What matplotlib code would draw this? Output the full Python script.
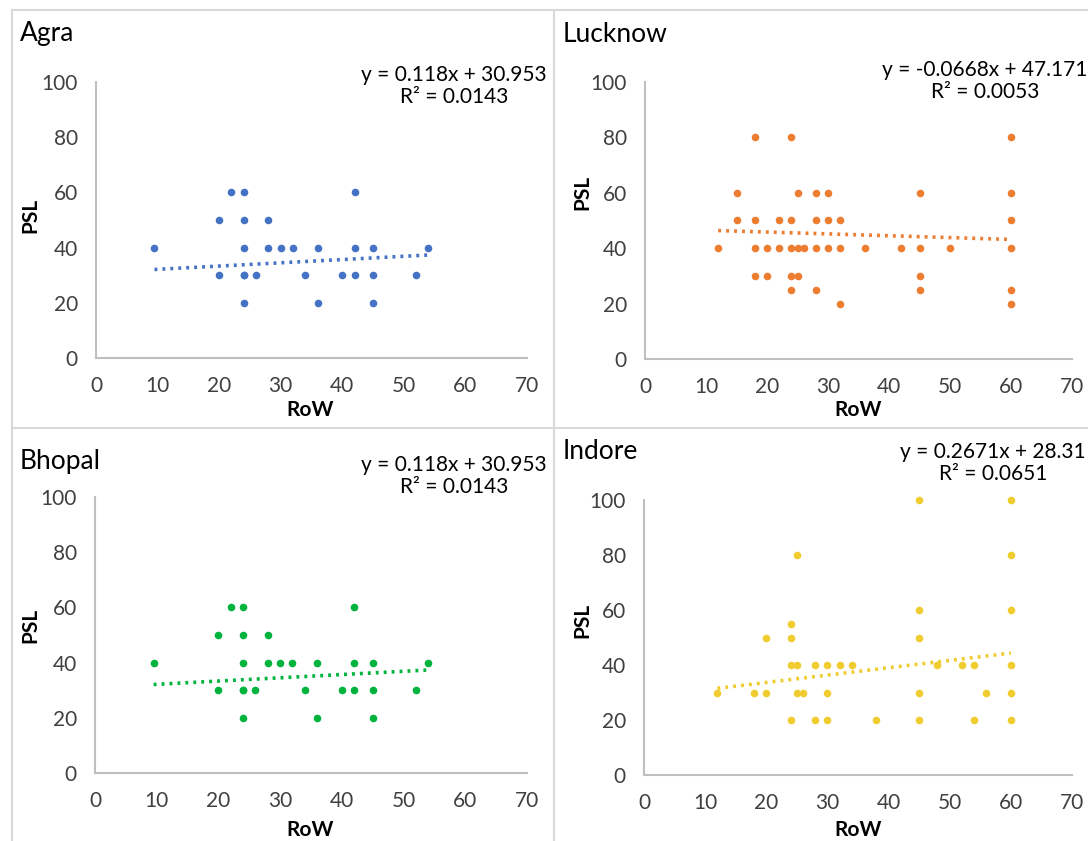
import matplotlib
matplotlib.use("Agg")
import matplotlib.pyplot as plt
from matplotlib.lines import Line2D
import numpy as np

plt.rcParams['font.family'] = ['Lato', 'DejaVu Sans']

# ---- datos ----
agra_x = [22, 24, 42,
          20, 24, 28,
          9.5, 24, 28, 30, 32, 36, 42, 45, 54,
          20, 24, 24, 26, 34, 40, 42, 45, 52,
          24, 36, 45]
agra_y = [60, 60, 60,
          50, 50, 50,
          40, 40, 40, 40, 40, 40, 40, 40, 40,
          30, 30, 30, 30, 30, 30, 30, 30, 30,
          20, 20, 20]

lucknow_x = [18, 24, 60,
             15, 25, 28, 30, 45, 60,
             15, 18, 22, 24, 28, 30, 32, 60,
             12, 18, 20, 22, 24, 25, 26, 28, 30, 32, 36, 42, 45, 50, 60,
             18, 20, 24, 25, 45,
             24, 28, 45, 60,
             32, 60]
lucknow_y = [80, 80, 80,
             60, 60, 60, 60, 60, 60,
             50, 50, 50, 50, 50, 50, 50, 50,
             40, 40, 40, 40, 40, 40, 40, 40, 40, 40, 40, 40, 40, 40, 40,
             30, 30, 30, 30, 30,
             25, 25, 25, 25,
             20, 20]

bhopal_x = [22, 24, 42,
            20, 24, 28,
            9.5, 24, 28, 30, 32, 36, 42, 45, 54,
            20, 24, 24, 26, 34, 40, 42, 45, 52,
            24, 36, 45]
bhopal_y = [60, 60, 60,
            50, 50, 50,
            40, 40, 40, 40, 40, 40, 40, 40, 40,
            30, 30, 30, 30, 30, 30, 30, 30, 30,
            20, 20, 20]

indore_x = [45, 60,
            25, 60,
            45, 60,
            24,
            20, 24, 45,
            24, 25, 28, 30, 32, 34, 48, 52, 54, 60,
            12, 18, 20, 25, 26, 30, 45, 56, 60,
            24, 28, 30, 38, 45, 54, 60]
indore_y = [100, 100,
            80, 80,
            60, 60,
            55,
            50, 50, 50,
            40, 40, 40, 40, 40, 40, 40, 40, 40, 40,
            30, 30, 30, 30, 30, 30, 30, 30, 30,
            20, 20, 20, 20, 20, 20, 20]

# pendiente / intercepto mostrados en el grafico
agra_fit = (0.118, 30.953)
lucknow_fit = (-0.0668, 47.171)
bhopal_fit = (0.118, 30.953)
indore_fit = (0.2671, 28.31)

titulos = ["Agra", "Lucknow", "Bhopal", "Indore"]
ecuaciones = ["y = 0.118x + 30.953\nR² = 0.0143",
              "y = -0.0668x + 47.171\nR² = 0.0053",
              "y = 0.118x + 30.953\nR² = 0.0143",
              "y = 0.2671x + 28.31\nR² = 0.0651"]
x_ticks = [0, 10, 20, 30, 40, 50, 60, 70]
y_ticks = [0, 20, 40, 60, 80, 100]

colores = ["#4472C4", "#ED7D31", "#00B33C", "#F0CC30"]

W, H = 1088, 841
fig = plt.figure(figsize=(W / 100, H / 100), dpi=100)


def px_ax(l, r, t, b):
    # caja de ejes en pixeles -> fracciones de figura
    return [l / W, 1 - b / H, (r - l) / W, (b - t) / H]


def fx(x):
    return x / W


def fy(y):
    return 1 - y / H


# bordes de los paneles (estilo Excel)
borde = "#D9D9D9"
for (x0, y0, x1, y1) in [(12, 10, W, 10), (12, 428, W, 428),
                         (12, 10, 12, H), (554, 10, 554, H)]:
    fig.add_artist(Line2D([fx(x0), fx(x1)], [fy(y0), fy(y1)],
                          color=borde, lw=1.5, transform=fig.transFigure))

cajas = [(96, 527, 82, 358), (645, 1072, 82, 359),
         (95, 527, 497, 773), (644, 1072, 500, 775)]
datos = [(agra_x, agra_y, agra_fit), (lucknow_x, lucknow_y, lucknow_fit),
         (bhopal_x, bhopal_y, bhopal_fit), (indore_x, indore_y, indore_fit)]
pos_titulo = [(20, 33), (563, 35), (20, 462), (563, 452)]
pos_ecu = [(454, 86), (985, 81), (454, 476), (993, 463)]
pos_psl = [(30, 215), (582, 192), (30, 625), (582, 620)]
pos_row = [(310, 410), (858, 410), (310, 830), (858, 830)]

for i in range(4):
    ax = fig.add_axes(px_ax(*cajas[i]))
    xs, ys, (m, b) = datos[i]
    ax.scatter(xs, ys, s=30, color=colores[i], zorder=3, linewidths=0,
               clip_on=False)
    xl = np.array([min(xs), max(xs)])
    ax.plot(xl, m * xl + b, color=colores[i], lw=2.6,
            linestyle=(0, (0.8, 1.4)), zorder=2)
    ax.set_xlim(0, 70)
    ax.set_ylim(0, 100)
    ax.set_xticks(x_ticks)
    ax.set_yticks(y_ticks)
    ax.tick_params(length=0, pad=13, labelsize=15, colors="#404040")
    for s in ["top", "right"]:
        ax.spines[s].set_visible(False)
    for s in ["left", "bottom"]:
        ax.spines[s].set_color("#BFBFBF")
        ax.spines[s].set_linewidth(1.5)
    ax.patch.set_alpha(0)

    fig.text(fx(pos_titulo[i][0]), fy(pos_titulo[i][1]), titulos[i],
             fontsize=19, va="center", ha="left", color="#000000")
    fig.text(fx(pos_ecu[i][0]), fy(pos_ecu[i][1]), ecuaciones[i],
             fontsize=15, ha="center", va="center", multialignment="center",
             linespacing=1.15, color="#000000")
    fig.text(fx(pos_psl[i][0]), fy(pos_psl[i][1]), "PSL", rotation=90,
             fontsize=15, fontweight="bold", ha="center", va="center")
    fig.text(fx(pos_row[i][0]), fy(pos_row[i][1]), "RoW",
             fontsize=15, fontweight="bold", ha="center", va="center")

fig.savefig("out.png", dpi=100)
